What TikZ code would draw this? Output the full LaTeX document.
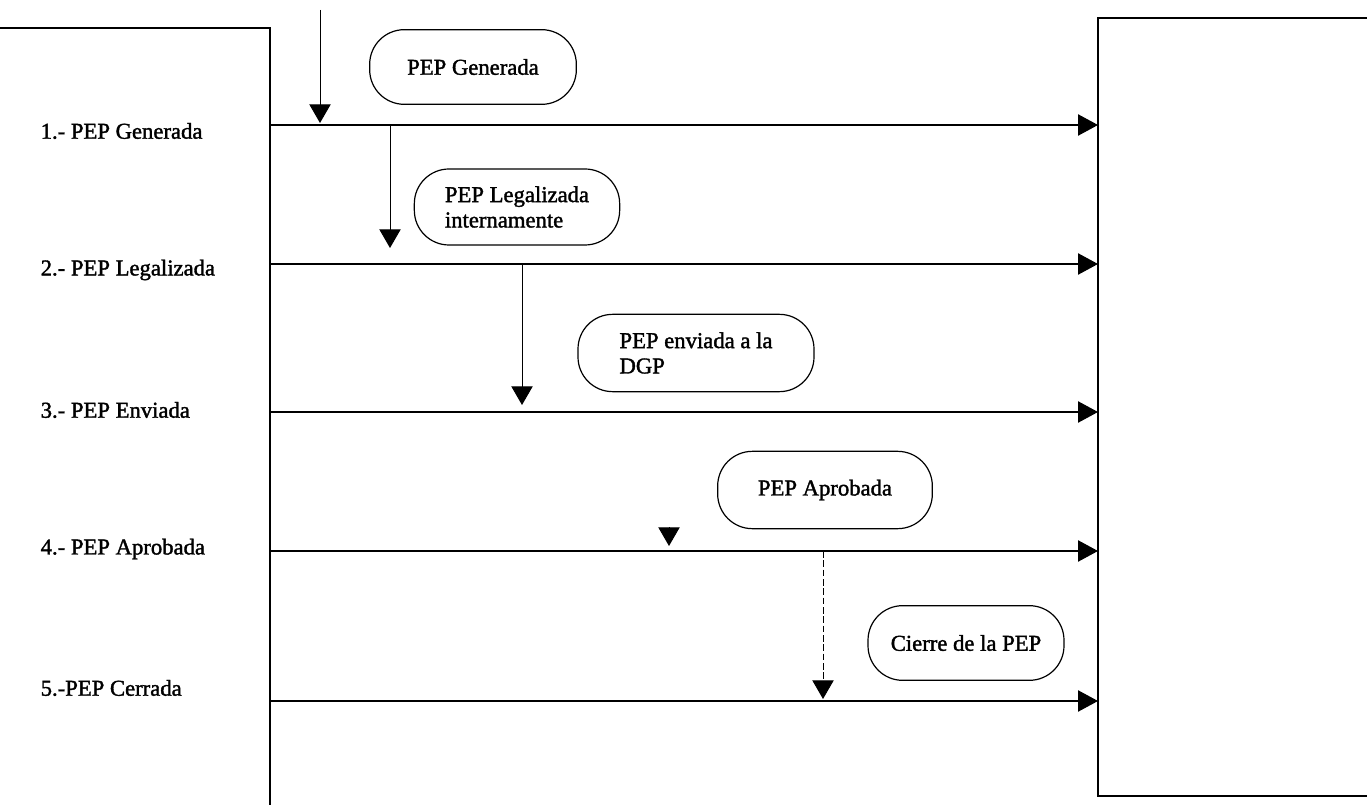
\documentclass[tikz,border=0pt]{standalone}
\usepackage{fontspec}
\setmainfont{Liberation Serif}[FakeBold=1.6]
\usetikzlibrary{arrows.meta}
\begin{document}
\begin{tikzpicture}[x=0.75pt,y=-0.75pt,
  every node/.style={font=\fontsize{17}{19}\selectfont},
  frame/.style={line width=0.9pt},
  flow/.style={line width=0.9pt,-{Triangle[length=15pt,width=16pt]}},
  drop/.style={line width=0.7pt,-{Triangle[length=14pt,width=16pt]}},
  pill/.style={draw,line width=0.9pt,rounded corners=26pt,align=left,inner sep=0pt},
  stage/.style={anchor=west}]
\useasboundingbox (0,0) rectangle (1367,805);

% swimlane frames
\draw[frame] (0,28) -- (270,28) -- (270,805);
\draw[frame] (1367,18) -- (1098,18) -- (1098,796) -- (1367,796);

% stage labels
\node[stage] (s1) at (36,131) {1.- PEP Generada};
\node[stage] (s2) at (36,270) {2.- PEP Legalizada};
\node[stage] (s3) at (36,410) {3.- PEP Enviada};
\node[stage] (s4) at (36,549) {4.- PEP Aprobada};
\node[stage] (s5) at (36,688) {5.-PEP Cerrada};

% row ends
\coordinate (l1) at (270,125); \coordinate (r1) at (1098,125);
\coordinate (l2) at (270,264); \coordinate (r2) at (1098,264);
\coordinate (l3) at (270,412); \coordinate (r3) at (1098,412);
\coordinate (l4) at (270,551); \coordinate (r4) at (1098,551);
\coordinate (l5) at (270,701); \coordinate (r5) at (1098,701);
\foreach \i in {1,...,5} \draw[flow] (l\i) -- (r\i);

% event boxes
\node[pill,minimum width=155pt,minimum height=56pt] (e1) at (473,67) {PEP Generada};
\node[pill,minimum width=154pt,minimum height=57pt] (e2) at (517,207) {PEP Legalizada\\internamente};
\node[pill,minimum width=177pt,minimum height=58pt] (e3) at (696,353) {PEP enviada a la\\DGP};
\node[pill,minimum width=161pt,minimum height=58pt] (e4) at (825,490) {PEP Aprobada};
\node[pill,minimum width=147pt,minimum height=56pt] (e5) at (966,643) {Cierre de la PEP};

% transitions
\coordinate (t0) at (320,10);   \coordinate (t1) at (320,123);
\coordinate (u1) at (390,125);  \coordinate (u2) at (390,248);
\coordinate (v2) at (522,264);  \coordinate (v3) at (522,405);
\coordinate (w3) at (669,527);  \coordinate (w4) at (669,546);
\coordinate (x4) at (823,551);  \coordinate (x5) at (823,699);
\draw[drop] (t0) -- (t1);
\draw[drop] (u1) -- (u2);
\draw[drop] (v2) -- (v3);
\draw[drop] (w3) -- (w4);
\draw[drop,dash pattern=on 5pt off 2pt] (x4) -- (x5);
\end{tikzpicture}
\end{document}
